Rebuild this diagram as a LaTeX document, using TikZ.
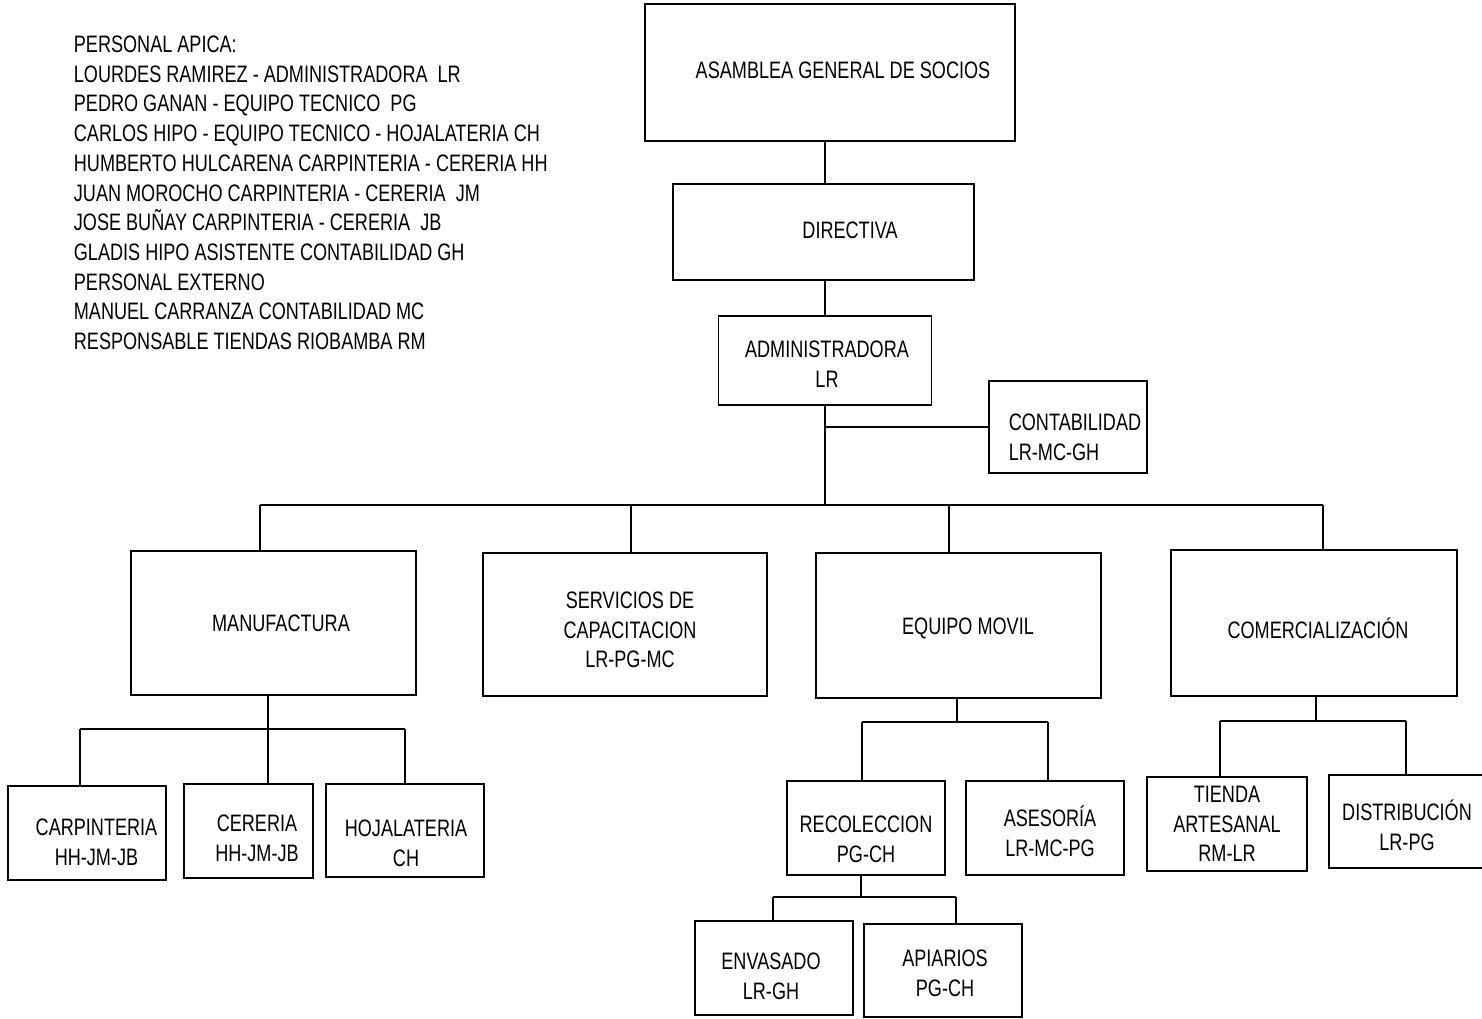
\documentclass[tikz,border=0pt]{standalone}
\usepackage{fontspec}
\setmainfont{Liberation Sans}[FakeStretch=0.76]
\newcommand{\boxfont}{\fontsize{23.8}{29.7}\selectfont}

\tikzset{every picture/.style={line width=1.8pt}}
\tikzset{
  unit/.style={draw, rectangle, inner sep=0pt},
  every label/.style={align=center, font=\boxfont, inner sep=0pt},
}

\begin{document}
\begin{tikzpicture}[x=1pt,y=1pt,yscale=-1,xscale=1]
		\useasboundingbox (0,0) rectangle (1482,1019);

		% Personal list
		\node[anchor=north west, align=left, font=\boxfont, inner sep=0pt] (lista) at (73,35) {PERSONAL APICA:\\LOURDES RAMIREZ - ADMINISTRADORA \ LR\\PEDRO GANAN - EQUIPO TECNICO \ PG\\CARLOS HIPO - EQUIPO TECNICO - HOJALATERIA CH\\HUMBERTO HULCARENA CARPINTERIA - CERERIA HH\\JUAN MOROCHO CARPINTERIA - CERERIA \ JM\\JOSE BUÑAY CARPINTERIA - CERERIA \ JB\\GLADIS HIPO ASISTENTE CONTABILIDAD GH\\PERSONAL EXTERNO\\MANUEL CARRANZA CONTABILIDAD MC\\RESPONSABLE TIENDAS RIOBAMBA RM};

		% Top levels
		\node[unit, minimum width=370, minimum height=137, label={[xshift=13, yshift=2]center:ASAMBLEA GENERAL DE SOCIOS}] (asam) at (830,72.5) {};
		\node[unit, minimum width=301, minimum height=96, label={[xshift=26.5, yshift=2]center:DIRECTIVA}] (dir) at (823.5,232) {};
		\node[unit, minimum width=213, minimum height=89, label={[xshift=2, yshift=-4]center:ADMINISTRADORA\\LR}] (adm) at (825,360.5) {};
		\node[unit, minimum width=158, minimum height=92, label={[align=left, xshift=7, yshift=-10]center:CONTABILIDAD\\LR-MC-GH}] (cont) at (1068,427) {};

		% Areas
		\node[unit, minimum width=285, minimum height=144, label={[xshift=7.5]center:MANUFACTURA}] (manu) at (273.5,623) {};
		\node[unit, minimum width=284, minimum height=143, label={[xshift=5, yshift=-5.5]center:SERVICIOS DE\\CAPACITACION\\LR-PG-MC}] (serv) at (625,624.5) {};
		\node[unit, minimum width=285, minimum height=145, label={[xshift=9.5, yshift=-2.5]center:EQUIPO MOVIL}] (equi) at (958.5,625.5) {};
		\node[unit, minimum width=286, minimum height=146, label={[xshift=4, yshift=-5]center:COMERCIALIZACIÓN}] (come) at (1314,623) {};

		% Manufactura
		\node[unit, minimum width=158, minimum height=94, label={[xshift=9.5, yshift=-9]center:CARPINTERIA\\HH-JM-JB}] (carp) at (87,833) {};
		\node[unit, minimum width=129, minimum height=94, label={[xshift=8.5, yshift=-7.5]center:CERERIA\\HH-JM-JB}] (cere) at (248.5,831) {};
		\node[unit, minimum width=158, minimum height=93, label={[xshift=1, yshift=-12.5]center:HOJALATERIA\\CH}] (hoja) at (405,830.5) {};

		% Equipo movil
		\node[unit, minimum width=158, minimum height=94, label={[yshift=-11.5]center:RECOLECCION\\PG-CH}] (reco) at (866,828) {};
		\node[unit, minimum width=158, minimum height=94, label={[xshift=5, yshift=-3.5]center:ASESORÍA\\LR-MC-PG}] (ases) at (1045,828) {};
		\node[unit, minimum width=158, minimum height=94, label={[xshift=-3, yshift=-8.5]center:ENVASADO\\LR-GH}] (enva) at (774,968) {};
		\node[unit, minimum width=158, minimum height=93, label={[xshift=2, yshift=-3]center:APIARIOS\\PG-CH}] (apia) at (943,970.5) {};

		% Comercializacion
		\node[unit, minimum width=160, minimum height=94, label={center:TIENDA\\ARTESANAL\\RM-LR}] (tien) at (1227,824) {};
		\node[unit, minimum width=155, minimum height=93, label={[xshift=0.5, yshift=-3.5]center:DISTRIBUCIÓN\\LR-PG}] (dist) at (1406.5,821.5) {};

		% Bus coordinates
		\coordinate (bm) at (260,505);
		\coordinate (bs) at (631,505);
		\coordinate (be) at (949,505);
		\coordinate (bc) at (1323,505);
		\coordinate (mj) at (268,729);
		\coordinate (m1) at (80,729);
		\coordinate (m3) at (405,729);
		\coordinate (ej) at (957,722);
		\coordinate (e1) at (862,722);
		\coordinate (e2) at (1048,722);
		\coordinate (rj) at (861,897);
		\coordinate (r1) at (773,897);
		\coordinate (r2) at (956,897);
		\coordinate (cj) at (1316,721);
		\coordinate (c1) at (1220,721);
		\coordinate (c2) at (1406,721);

		% Straight Lines
		\draw (asam.south -| adm.north) -- (dir.north -| adm.north);
		\draw (dir.south -| adm.north) -- (adm.north);
		\draw (adm.south) -- (adm.south |- bm);
		\draw (adm.south |- cont.west) -- (cont.west);
		\draw (bm) -- (bc);
		\draw (bm) -- (bm |- manu.north);
		\draw (bs) -- (bs |- serv.north);
		\draw (be) -- (be |- equi.north);
		\draw (bc) -- (bc |- come.north);

		\draw (mj |- manu.south) -- (mj);
		\draw (m1) -- (m3);
		\draw (m1) -- (m1 |- carp.north);
		\draw (mj) -- (mj |- cere.north);
		\draw (m3) -- (m3 |- hoja.north);

		\draw (ej |- equi.south) -- (ej);
		\draw (e1) -- (e2);
		\draw (e1) -- (e1 |- reco.north);
		\draw (e2) -- (e2 |- ases.north);

		\draw (rj |- reco.south) -- (rj);
		\draw (r1) -- (r2);
		\draw (r1) -- (r1 |- enva.north);
		\draw (r2) -- (r2 |- apia.north);

		\draw (cj |- come.south) -- (cj);
		\draw (c1) -- (c2);
		\draw (c1) -- (c1 |- tien.north);
		\draw (c2) -- (c2 |- dist.north);

\end{tikzpicture}
\end{document}
